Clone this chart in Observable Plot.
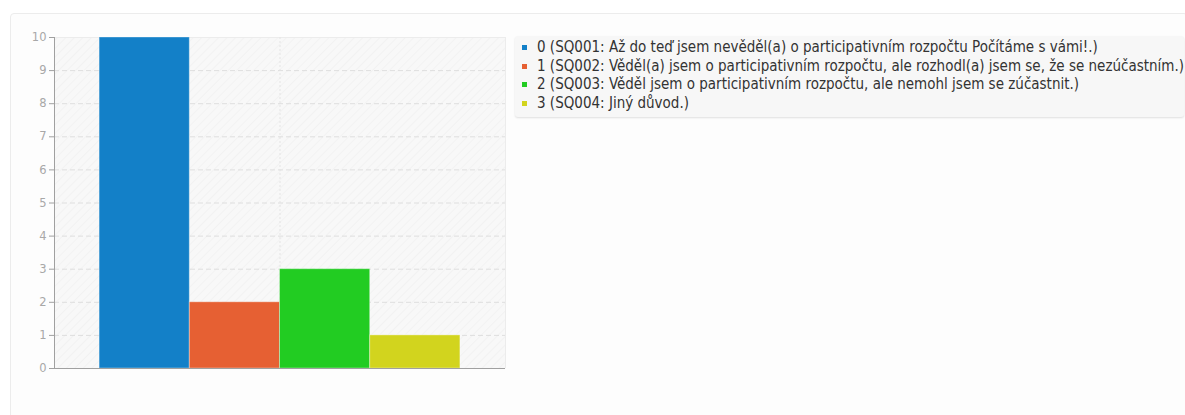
<!DOCTYPE html>
<html>
<head>
<meta charset="utf-8">
<script src="https://cdn.jsdelivr.net/npm/d3@7"></script>
<script src="https://cdn.jsdelivr.net/npm/@observablehq/plot@0.6"></script>
<style>
  html, body { margin: 0; padding: 0; background: #ffffff; width: 1185px; height: 415px; overflow: hidden; }
  #panel { position: absolute; left: 10px; top: 13px; width: 1178px; height: 410px; background: #fdfdfd; border: 1px solid #ececec; border-radius: 4px; box-sizing: border-box; }
  #chart { position: absolute; left: 0; top: 0; }
  #legend { position: absolute; left: 515px; top: 36px; width: 669px; height: 81px; background: #f7f7f7; border-radius: 3px; box-shadow: 0 1px 2px rgba(0,0,0,0.12); box-sizing: border-box; padding-top: 2px; font-family: "DejaVu Sans Condensed", "DejaVu Sans", sans-serif; font-stretch: condensed; font-size: 15px; color: #333; }
  .row { height: 18.6px; line-height: 18.6px; white-space: nowrap; position: relative; padding-left: 22px; }
  .sw { position: absolute; left: 7px; top: 7px; width: 5px; height: 5px; }
</style>
</head>
<body>
<div id="panel"></div>
<div id="chart"></div>
<div id="legend"></div>
<script>
const codes = ["0", "1", "2", "3"];
const labels = [
  "SQ001: Až do teď jsem nevěděl(a) o participativním rozpočtu Počítáme s vámi!.",
  "SQ002: Věděl(a) jsem o participativním rozpočtu, ale rozhodl(a) jsem se, že se nezúčastním.",
  "SQ003: Věděl jsem o participativním rozpočtu, ale nemohl jsem se zúčastnit.",
  "SQ004: Jiný důvod."
];
const values = [10, 2, 3, 1];
const colors = ["#1380c8", "#e66033", "#22cc22", "#d2d41e"];
const yTicks = [0, 1, 2, 3, 4, 5, 6, 7, 8, 9, 10];

const data = codes.map((c, i) => ({code: c, index: i, label: labels[i], value: values[i], color: colors[i]}));

const chart = Plot.plot({
  width: 515,
  height: 400,
  marginLeft: 54,
  marginRight: 10,
  marginTop: 37,
  marginBottom: 32,
  style: {fontFamily: "DejaVu Sans, sans-serif", fontSize: "11.5px", background: "transparent", overflow: "visible"},
  x: {domain: [-0.5, 4.5], axis: null},
  y: {domain: [0, 10], axis: null},
  marks: [
    Plot.frame({fill: "#f8f8f8", stroke: "none"}),
    Plot.frame({fill: "url(#hatch)", stroke: "none"}),
    Plot.ruleY(yTicks.filter(d => d > 0), {stroke: "#dedede", strokeDasharray: "5,3", strokeWidth: 1}),
    Plot.ruleY([10], {stroke: "#ececec", strokeWidth: 1}),
    Plot.ruleX([4.5], {stroke: "#ececec", strokeWidth: 1}),
    Plot.ruleX([2], {stroke: "#e4e4e4", strokeDasharray: "2,2", strokeWidth: 1}),
    Plot.rectY(data, {x1: d => d.index, x2: d => d.index + 1, y: "value", fill: "color", stroke: "#ffffff", strokeOpacity: 0.35, strokeWidth: 1}),
    Plot.ruleX([-0.5], {stroke: "#a0a0a0", strokeWidth: 1}),
    Plot.ruleY([0], {stroke: "#a0a0a0", strokeWidth: 1}),
    Plot.axisY(yTicks, {anchor: "left", label: null, tickSize: 5, tickPadding: 3, stroke: "#a0a0a0", color: "#a8a8a8", fontSize: 11.5})
  ]
});

// hatch pattern definition
const ns = "http://www.w3.org/2000/svg";
const defs = document.createElementNS(ns, "defs");
defs.innerHTML = '<pattern id="hatch" width="6" height="6" patternUnits="userSpaceOnUse" patternTransform="rotate(45)"><line x1="0" y1="0" x2="0" y2="6" stroke="#f0f0f0" stroke-width="1.5"/></pattern>';
chart.insertBefore(defs, chart.firstChild);
document.getElementById("chart").appendChild(chart);

const legend = d3.select("#legend");
data.forEach(d => {
  const row = legend.append("div").attr("class", "row");
  row.append("span").attr("class", "sw").style("background", d.color);
  row.append("span").text(`${d.code} (${d.label})`);
});
</script>
</body>
</html>
